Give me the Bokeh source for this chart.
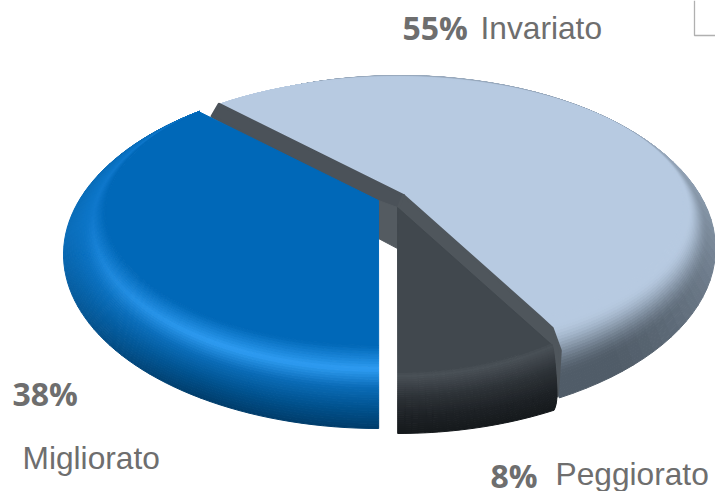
import numpy as np
from bokeh.embed import file_html
from bokeh.resources import INLINE
from bokeh.plotting import figure
from bokeh.models import ColumnDataSource
from bokeh.core.properties import value

# Chart data, in drawing order (clockwise from the upper left)
categories = ["Invariato", "Peggiorato", "Migliorato"]
shares = [55, 8, 38]
share_labels = ["55%", "8%", "38%"]

# Plane of the pie -> screen directions of the cut edges (a tilted, sheared view)
VIEW = np.array([[0.903, -0.89], [0.4215, 0.44]])
START_DEG = 90.0


def edge_dirs():
    """Screen direction (dx, dy down) of each slice boundary, from the shares."""
    total = sum(shares)
    cum = START_DEG - np.cumsum([0] + shares) * 360.0 / total
    out = []
    for deg in cum:
        r = np.radians(deg)
        d = VIEW @ np.array([np.cos(r), np.sin(r)])
        out.append((d[0], -d[1]))
    return out


DIRS = edge_dirs()


def hex2rgb(h):
    return np.array([int(h[i:i + 2], 16) for i in (1, 3, 5)], float)


def rgb2hex(c):
    c = np.clip(np.round(c), 0, 255).astype(int)
    return "#%02x%02x%02x" % tuple(c)


def ramp(stops, u):
    pos = [a for a, _ in stops]
    cols = np.array([hex2rgb(b) for _, b in stops])
    return np.array([np.interp(u, pos, cols[:, k]) for k in range(3)])


def ray_hit(apex, d, ell):
    """Where the ray from apex along d leaves the ellipse (cx, cy, a, b)."""
    cx, cy, a, b = ell
    px, py = (apex[0] - cx) / a, (apex[1] - cy) / b
    qx, qy = d[0] / a, d[1] / b
    A, B, C = qx * qx + qy * qy, 2 * (px * qx + py * qy), px * px + py * py - 1
    k = (-B + np.sqrt(B * B - 4 * A * C)) / (2 * A)
    return apex[0] + k * d[0], apex[1] + k * d[1]


def lerp_ell(e0, e1, s):
    return tuple(e0[i] + (e1[i] - e0[i]) * s for i in range(4))


def param_at(x, y, ell):
    cx, cy, a, b = ell
    c = np.clip((x - cx) / a, -1, 1)
    sn = np.sqrt(1 - c * c)
    if y > cy:
        sn = -sn
    return np.arctan2(sn, c)


def arc(ell, t0, t1, n):
    cx, cy, a, b = ell
    t = np.linspace(t0, t1, n)
    return cx + a * np.cos(t), cy - b * np.sin(t), t


xs_all, ys_all, fill_all = [], [], []


def add(xs, ys, col):
    xs_all.append(list(np.round(xs, 2)))
    ys_all.append(list(np.round(ys, 2)))
    fill_all.append(col)


def no_flare(s):
    return 0.0


def wedge(apex, d0, d1, outer, plate, shade, plate_col, n_s=28, n_t=64, flare0=no_flare, flare1=no_flare):
    """Bevelled slice: quads of the rim from outer ellipse to plate, then the flat plate."""
    c0 = ray_hit(apex, d0, plate)
    c1 = ray_hit(apex, d1, plate)
    s_vals = np.linspace(0, 1, n_s + 1)
    rows = []
    for s in s_vals:
        e = lerp_ell(outer, plate, s)
        t0 = param_at(c0[0] + flare0(s), c0[1], e)
        t1 = param_at(c1[0] + flare1(s), c1[1], e)
        while t1 >= t0:
            t1 -= 2 * np.pi
        rows.append(arc(e, t0, t1, n_t + 1))
    for i in range(n_s):
        xa, ya, ta = rows[i]
        xb, yb, _ = rows[i + 1]
        su = 0.5 * (s_vals[i] + s_vals[i + 1])
        for j in range(n_t):
            tm = 0.5 * (ta[j] + ta[j + 1])
            add([xa[j], xa[j + 1], xb[j + 1], xb[j]],
                [ya[j], ya[j + 1], yb[j + 1], yb[j]],
                shade(su, tm))
    px, py, _ = rows[-1]
    add([apex[0]] + list(px), [apex[1]] + list(py), plate_col)
    return c0, c1, (rows[0][0][-1], rows[0][1][-1])


# --- Invariato: pale slice with a grey cut face -----------------------------
LIGHT_PLATE = "#b7cae1"
LIGHT_EDGE = "#505c68"


def light_shade(s, t):
    w = np.clip(0.6 - 0.55 * np.sin(t), 0.3, 1)
    rim = hex2rgb(LIGHT_PLATE) * (1 - w) + hex2rgb(LIGHT_EDGE) * w
    k = np.clip((s - 0.24) / 0.63, 0, 1)
    k = k * k * (3 - 2 * k)
    return rgb2hex(rim * (1 - k) + hex2rgb(LIGHT_PLATE) * k)


light_apex = (403, 195)
c0, c1, end = wedge(light_apex, DIRS[0], DIRS[1], (400, 248, 315, 173), (395, 205, 288, 128),
                    light_shade, LIGHT_PLATE, flare1=lambda s: 20 * (1 - s))

WALL = "#4b5259"
wall_xs = [
    [light_apex[0], c0[0], c0[0] - 7, light_apex[0] - 4],
    [light_apex[0], c1[0], c1[0] + 13, c1[0] + 21, end[0] - 2, light_apex[0] - 6],
]
wall_ys = [
    [light_apex[1], c0[1], c0[1] + 12, light_apex[1] + 20],
    [light_apex[1], c1[1], c1[1] + 12, c1[1] + 34, end[1] - 2, light_apex[1] + 14],
]
wall_c = [WALL, "#4f565c"]

xs_light, ys_light, c_light = xs_all[:], ys_all[:], fill_all[:]
xs_all.clear(); ys_all.clear(); fill_all.clear()

# backing of the apex, seen through the gap between the front slices
add([378, 397, 397, 378], [200, 207, 248, 238], "#545b61")

# --- Peggiorato: charcoal slice --------------------------------------------
DARK_STOPS = [(0, "#14181b"), (0.3, "#1e2226"), (0.62, "#2e3338"), (0.95, "#495056"), (1, "#454c52")]


def dark_shade(s, t):
    return rgb2hex(ramp(DARK_STOPS, s))


wedge((397, 207), DIRS[1], DIRS[2], (397, 257, 315, 176), (397, 212, 265, 160),
      dark_shade, "#41484e", n_s=30, n_t=24,
      flare0=lambda s: 8 * (1 - s) ** 0.4 - 4 * (1 - s) ** 10)

# --- Migliorato: blue slice with the bright bevel line ----------------------
BLUE_PLATE = "#0068b8"
BLUE_STOPS = [(0, "#003c6a"), (0.25, "#00528f"), (0.5, "#0a6cb8"), (0.72, "#2e9cf2"), (1, BLUE_PLATE)]
BLUE_SIDE = [(0, "#0a6cb8"), (0.5, "#0b74c6"), (0.72, "#0f78cc"), (1, BLUE_PLATE)]


def blue_shade(s, t):
    w = np.clip(0.1 - 1.1 * np.sin(t), 0, 1)
    c = ramp(BLUE_STOPS, s) * w + ramp(BLUE_SIDE, s) * (1 - w)
    return rgb2hex(c)


wedge((378, 200), DIRS[2], DIRS[3], (378, 254, 315, 174), (378, 212, 273, 133),
      blue_shade, BLUE_PLATE, n_s=32, n_t=72)

p = figure(width=715, height=491, x_range=(0, 715), y_range=(491, 0),
           output_backend="svg", toolbar_location=None, min_border=0,
           outline_line_color=None, background_fill_color="white", border_fill_color="white")
p.axis.visible = False
p.grid.visible = False

p.patches("xs", "ys", source=ColumnDataSource(dict(xs=xs_light, ys=ys_light, c=c_light)),
          fill_color="c", line_color="c", line_width=1.0)
p.patches("xs", "ys", source=ColumnDataSource(dict(xs=wall_xs, ys=wall_ys, c=wall_c)),
          fill_color="c", line_color="c", line_width=3, line_join="round")
p.patches("xs", "ys", source=ColumnDataSource(dict(xs=xs_all, ys=ys_all, c=fill_all)),
          fill_color="c", line_color="c", line_width=1.0)

# corner mark at the top right
p.line([694, 694, 715], [0, 35, 35], line_color="#b0b0b0", line_width=1.3)

GREY = "#6e6e6e"
pct_pos = [(402, 27), (490, 475), (12, 393)]
name_pos = [(480, 27), (555, 473), (22, 457)]
for lab, name, (px_, py_), (nx, ny) in zip(share_labels, categories, pct_pos, name_pos):
    p.text([px_], [py_], text=[lab], text_font=value("Open Sans"), text_font_style="bold",
           text_font_size="32px", text_color=GREY, text_baseline="middle")
    p.text([nx], [ny], text=[name], text_font=value("Liberation Sans"),
           text_font_size="31.7px", text_color=GREY, text_baseline="middle")

open("out.html", "w").write(file_html(p, INLINE))
